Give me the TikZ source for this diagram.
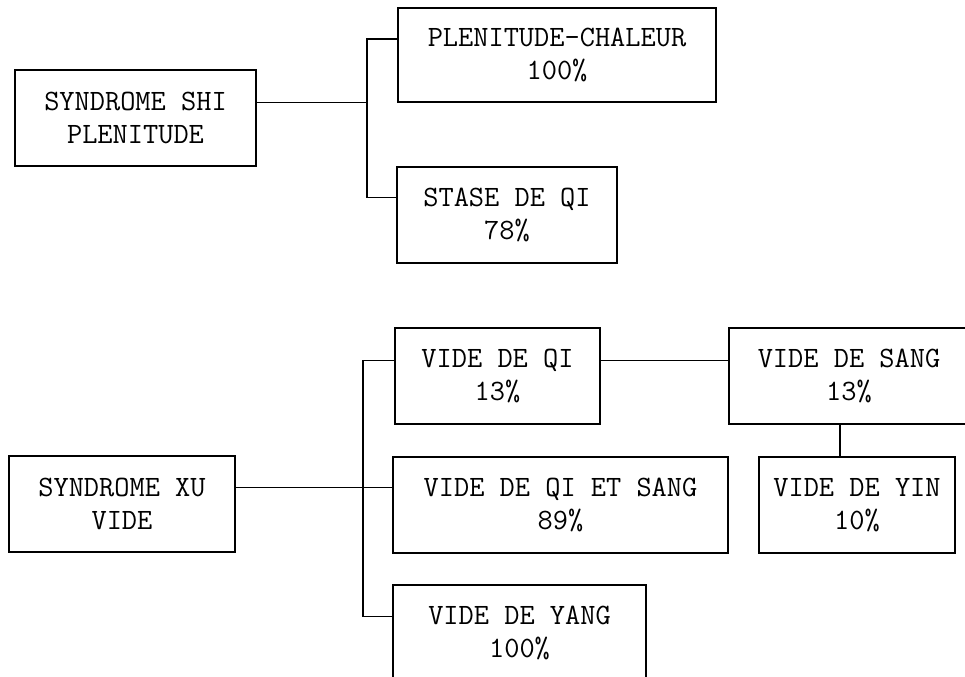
\documentclass[tikz,border=0pt]{standalone}
\usetikzlibrary{calc}

\tikzset{
  box/.style={draw, line width=0.9pt, align=center, inner sep=0pt,
    font=\fontsize{16.8}{18.8}\selectfont\ttfamily},
  lien/.style={line width=0.9pt}
}

\begin{document}
\begin{tikzpicture}[x=1cm, y=-1cm]

    \useasboundingbox (0,0) rectangle (19.30,13.54);

    % 上半部分
    \node[box, minimum width=4.82cm, minimum height=1.92cm] (shi) at (2.71,2.36) {SYNDROME SHI\\PLENITUDE};
    \node[box, minimum width=6.36cm, minimum height=1.88cm] (chaleur) at (11.14,1.10) {PLENITUDE-CHALEUR\\100\%};
    \node[box, minimum width=4.40cm, minimum height=1.92cm] (stase) at (10.14,4.30) {STASE DE QI\\78\%};

    % 下半部分
    \node[box, minimum width=4.52cm, minimum height=1.92cm] (xu) at (2.44,10.08) {SYNDROME XU\\VIDE};
    \node[box, minimum width=4.10cm, minimum height=1.92cm] (videqi) at (9.95,7.52) {VIDE DE QI\\13\%};
    \node[box, minimum width=6.70cm, minimum height=1.92cm] (qisang) at (11.21,10.10) {VIDE DE QI ET SANG\\89\%};
    \node[box, minimum width=5.06cm, minimum height=1.92cm] (yang) at (10.39,12.66) {VIDE DE YANG\\100\%};
    \node[box, minimum width=4.80cm, minimum height=1.92cm] (sang) at (16.98,7.52) {VIDE DE SANG\\13\%};
    \node[box, minimum width=3.92cm, minimum height=1.92cm] (yin) at (17.14,10.10) {VIDE DE YIN\\10\%};

    % 连接点
    \coordinate (shiR) at ($(shi.north east)!.34!(shi.south east)$);
    \coordinate (chaleurL) at ($(chaleur.north west)!.33!(chaleur.south west)$);
    \coordinate (staseL) at ($(stase.north west)!.32!(stase.south west)$);
    \coordinate (xuR) at ($(xu.north east)!.33!(xu.south east)$);
    \coordinate (videqiL) at ($(videqi.north west)!.34!(videqi.south west)$);
    \coordinate (videqiR) at ($(videqi.north east)!.34!(videqi.south east)$);
    \coordinate (yangL) at ($(yang.north west)!.33!(yang.south west)$);
    \coordinate (troncA) at (7.34,0);
    \coordinate (troncB) at (7.26,0);

    % 连线
    \draw[lien] (shiR) -- (shiR -| troncA);
    \draw[lien] (chaleurL) -| (troncA |- staseL) -- (staseL);
    \draw[lien] (xuR) -- (xuR -| qisang.west);
    \draw[lien] (videqiL) -| (troncB |- yangL) -- (yangL);
    \draw[lien] (videqiR) -- (videqiR -| sang.west);
    \draw[lien] ([xshift=-0.18cm]sang.south) -- ([xshift=-0.18cm]sang.south |- yin.north);

  \end{tikzpicture}
\end{document}
